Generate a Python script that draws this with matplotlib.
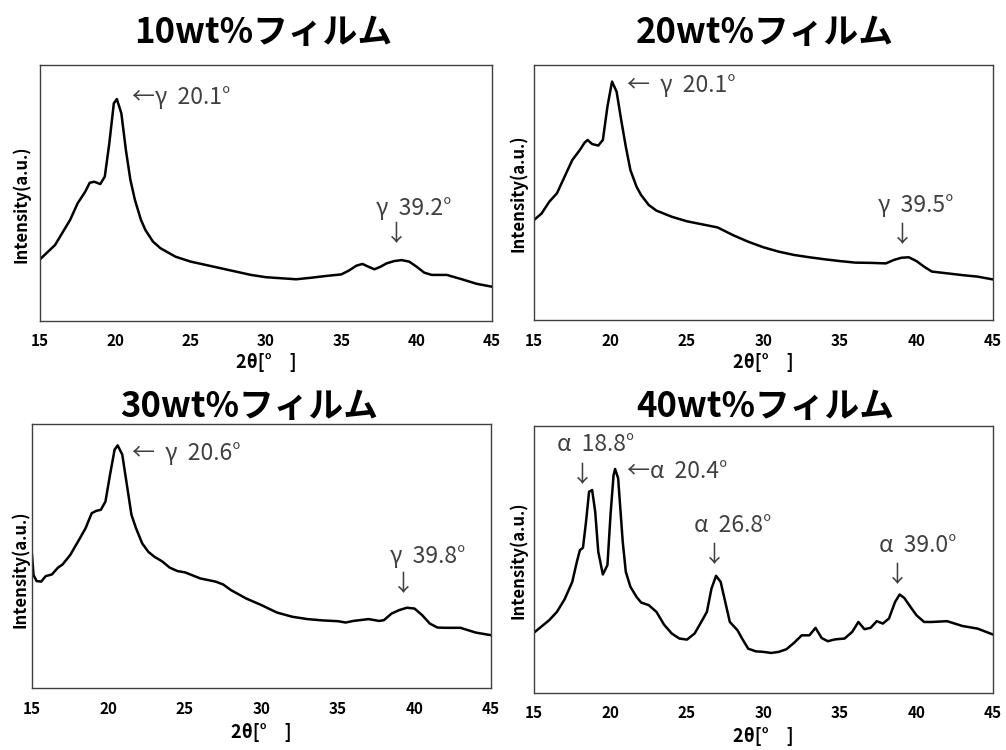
import matplotlib
matplotlib.use("Agg")
import matplotlib.pyplot as plt

plt.rcParams['font.family'] = ['Noto Sans CJK JP', 'DejaVu Sans']

titles = ["10wt%フィルム", "20wt%フィルム", "30wt%フィルム", "40wt%フィルム"]

# 10wt%
x10 = [15, 16, 17, 17.5, 18, 18.3, 18.6, 19.0, 19.3, 19.6, 19.9, 20.1, 20.4, 20.7, 21.0,
       21.3, 21.7, 22, 22.5, 23, 24, 25, 26, 27, 28, 29, 30, 31, 32, 33, 34, 35, 35.5,
       36, 36.4, 36.8, 37.2, 37.6, 38, 38.5, 39, 39.5, 40, 40.5, 41, 42, 43, 44, 45]
y10 = [0.241, 0.297, 0.395, 0.46, 0.505, 0.54, 0.544, 0.535, 0.564, 0.694, 0.85, 0.867,
       0.811, 0.668, 0.551, 0.473, 0.395, 0.355, 0.31, 0.284, 0.251, 0.232, 0.219, 0.206,
       0.193, 0.18, 0.171, 0.167, 0.163, 0.169, 0.176, 0.182, 0.197, 0.216, 0.223, 0.212,
       0.202, 0.212, 0.225, 0.234, 0.238, 0.232, 0.212, 0.189, 0.18, 0.18, 0.163, 0.145, 0.134]

# 20wt%
x20 = [15, 15.5, 16, 16.5, 17, 17.5, 18, 18.3, 18.5, 18.8, 19.2, 19.5, 19.8, 20.1, 20.4,
       20.7, 21.0, 21.3, 21.7, 22, 22.5, 23, 24, 25, 26, 27, 28, 29, 30, 31, 32, 33, 34,
       35, 36, 37, 38, 38.5, 39, 39.5, 40, 40.5, 41, 42, 43, 44, 45]
y20 = [0.392, 0.418, 0.464, 0.497, 0.562, 0.627, 0.667, 0.695, 0.706, 0.69, 0.684, 0.706,
       0.837, 0.935, 0.895, 0.784, 0.68, 0.588, 0.523, 0.49, 0.451, 0.429, 0.405, 0.387,
       0.375, 0.363, 0.333, 0.307, 0.285, 0.268, 0.255, 0.246, 0.238, 0.231, 0.225, 0.224,
       0.222, 0.235, 0.244, 0.246, 0.231, 0.209, 0.19, 0.183, 0.176, 0.17, 0.159]

# 30wt%
x30 = [15, 15.1, 15.3, 15.6, 15.9, 16.3, 16.7, 17.0, 17.5, 18, 18.5, 18.9, 19.2, 19.5,
       19.8, 20.1, 20.4, 20.6, 20.9, 21.2, 21.5, 21.8, 22.2, 22.6, 23, 23.5, 24, 24.5, 25,
       26, 27, 27.5, 28, 29, 30, 31, 32, 33, 34, 35, 35.5, 36, 37, 37.7, 38, 38.5, 39,
       39.5, 40, 40.5, 41, 41.5, 42, 43, 44, 45]
y30 = [0.504, 0.428, 0.405, 0.403, 0.424, 0.43, 0.456, 0.468, 0.504, 0.554, 0.605, 0.662,
       0.671, 0.675, 0.706, 0.808, 0.903, 0.919, 0.884, 0.77, 0.656, 0.605, 0.548, 0.516,
       0.497, 0.48, 0.456, 0.443, 0.438, 0.415, 0.403, 0.392, 0.371, 0.339, 0.314, 0.286,
       0.27, 0.261, 0.256, 0.253, 0.248, 0.254, 0.261, 0.254, 0.257, 0.282, 0.295, 0.304,
       0.301, 0.276, 0.244, 0.229, 0.228, 0.228, 0.21, 0.2]

# 40wt%
x40 = [15, 16, 16.5, 17, 17.5, 17.8, 18.0, 18.2, 18.4, 18.6, 18.8, 19.0, 19.2, 19.5, 19.8,
       20.0, 20.2, 20.3, 20.5, 20.8, 21.0, 21.3, 21.7, 22, 22.5, 23, 23.5, 24, 24.5, 25,
       25.5, 26, 26.3, 26.6, 26.9, 27.2, 27.5, 27.8, 28.3, 28.6, 29, 29.5, 30, 30.5, 31,
       31.5, 32, 32.5, 33, 33.4, 33.8, 34.2, 34.7, 35.3, 35.8, 36.2, 36.6, 37.0, 37.4,
       37.8, 38.2, 38.6, 38.9, 39.2, 39.6, 40, 40.5, 41, 42, 43, 44, 45]
y40 = [0.226, 0.273, 0.304, 0.351, 0.416, 0.491, 0.535, 0.544, 0.641, 0.754, 0.76, 0.679,
       0.529, 0.444, 0.479, 0.666, 0.816, 0.839, 0.804, 0.566, 0.454, 0.398, 0.36, 0.339,
       0.329, 0.304, 0.256, 0.223, 0.204, 0.2, 0.223, 0.273, 0.304, 0.391, 0.439, 0.416,
       0.341, 0.266, 0.235, 0.204, 0.166, 0.156, 0.154, 0.15, 0.154, 0.164, 0.188, 0.216,
       0.216, 0.244, 0.206, 0.194, 0.201, 0.204, 0.229, 0.266, 0.239, 0.244, 0.269, 0.26,
       0.279, 0.341, 0.369, 0.356, 0.323, 0.291, 0.266, 0.266, 0.269, 0.251, 0.241, 0.219]

xs = [x10, x20, x30, x40]
ys = [y10, y20, y30, y40]

# peak labels: (text, x, y)
side_labels = [
    [("←γ  20.1°", 21.08, 0.872)],
    [("←  γ  20.1°", 21.07, 0.92)],
    [("←  γ  20.6°", 21.51, 0.89)],
    [("←α  20.4°", 21.07, 0.831)],
]
top_labels = [
    [("γ  39.2°", 37.3, 0.44, 38.66, 0.336)],
    [("γ  39.5°", 37.5, 0.45, 39.08, 0.333)],
    [("γ  39.8°", 38.4, 0.497, 39.3, 0.392)],
    [("α  18.8°", 16.5, 0.929, 18.18, 0.816),
     ("α  26.8°", 25.49, 0.629, 26.77, 0.516),
     ("α  39.0°", 37.54, 0.554, 38.73, 0.441)],
]

W, H = 1006, 750
boxes = [(40, 492, 65, 321), (534, 993, 65, 320), (32, 491, 424, 688), (534, 993, 426, 693)]
title_pos = [(263, 33), (765, 33), (249, 406), (765, 407)]
ylab_pos = [(21, 204), (518, 193), (20, 569), (518, 560)]
xlab_y = [363, 363, 732, 737]

fig = plt.figure(figsize=(W / 100, H / 100), dpi=100)
txt_col = '#404040'

for i in range(4):
    l, r, t, b = boxes[i]
    ax = fig.add_axes([l / W, 1 - b / H, (r - l) / W, (b - t) / H])
    ax.plot(xs[i], ys[i], color='black', lw=1.8)
    ax.set_xlim(15, 45)
    ax.set_ylim(0, 1)
    ax.set_xticks([15, 20, 25, 30, 35, 40, 45])
    ax.set_yticks([])
    ax.tick_params(axis='x', length=0, pad=9, labelsize=11)
    for lab in ax.get_xticklabels():
        lab.set_fontweight('bold')
    for s in ax.spines.values():
        s.set_color('#404040')
        s.set_linewidth(1.0)
    fig.text((l + r) / 2 / W, 1 - xlab_y[i] / H, '2θ[°\u3000]', ha='center', va='center',
             fontsize=13, fontweight='bold')
    fig.text(ylab_pos[i][0] / W, 1 - ylab_pos[i][1] / H, 'Intensity(a.u.)', rotation=90,
             ha='center', va='center', fontsize=12, fontweight='bold')
    fig.text(title_pos[i][0] / W, 1 - title_pos[i][1] / H, titles[i], ha='center',
             va='center', fontsize=25, fontweight='bold')
    for s, x, y in side_labels[i]:
        ax.text(x, y, s, ha='left', va='center', fontsize=16.5, color=txt_col)
    for s, x, y, ax_x, ax_y in top_labels[i]:
        ax.text(x, y, s, ha='left', va='center', fontsize=16.5, color=txt_col)
        ax.text(ax_x, ax_y, '↓', ha='center', va='center', fontsize=16.5, color=txt_col)

fig.savefig('out.png', dpi=100)
